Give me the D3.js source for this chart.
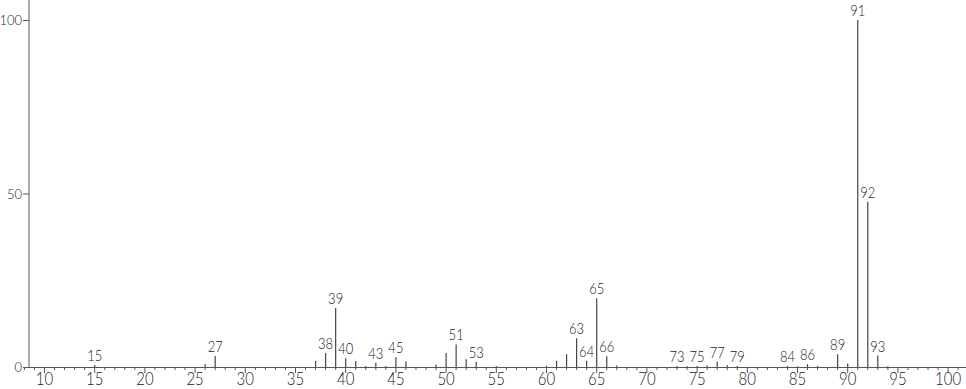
<!DOCTYPE html>
<html>
<head>
<meta charset="utf-8">
<script src="https://cdn.jsdelivr.net/npm/d3@7"></script>
<style>
  html, body { margin: 0; padding: 0; background: #fff; }
  svg { display: block; font-family: Lato, "Liberation Sans", sans-serif; font-weight: 300; }
</style>
</head>
<body>
<div id="chart"></div>
<script>
const width = 966
const height = 389

// m/z values and relative intensities
const masses = [15, 26, 27, 37, 38, 39, 40, 41, 42, 43, 44, 45, 46, 49, 50, 51, 52, 53, 55,
    60, 61, 62, 63, 64, 65, 66, 67, 73, 74, 75, 76, 77, 78, 79, 84, 85, 86, 87, 89, 90, 91, 92, 93, 94]
const intensities = [0.6, 0.9, 3.2, 1.8, 4.0, 17.0, 2.5, 1.7, 0.3, 1.2, 0.3, 2.8, 1.6, 0.7, 4.0, 6.5, 2.2, 1.5, 0.3,
    0.4, 1.8, 3.7, 8.3, 1.8, 19.8, 3.1, 0.4, 0.3, 0.2, 0.3, 0.4, 1.5, 0.5, 0.3, 0.3, 0.2, 0.8, 0.3, 3.7, 1.0, 100, 47.6, 3.3, 0.2]
const labelled = [15, 27, 38, 39, 40, 43, 45, 51, 53, 63, 64, 65, 66, 73, 75, 77, 79, 84, 86, 89, 91, 92, 93]

const xTicks = d3.range(10, 101, 5)
const yTicks = [0, 50, 100]

const peaks = masses.map((m, i) => ({mz: m, value: intensities[i]}))

const x = d3.scaleLinear()
    .domain([10, 100])
    .range([44.5, 948.1])

const y = d3.scaleLinear()
    .domain([0, 100])
    .range([367, 20])

const svg = d3.select('#chart')
    .append('svg')
    .attr('width', width)
    .attr('height', height)

// minor ticks at every mass unit, longer ones every 5
svg.append('g')
    .selectAll('line')
    .data(d3.range(8, 102))
    .enter()
    .append('line')
    .attr('x1', d => x(d))
    .attr('x2', d => x(d))
    .attr('y1', y(0))
    .attr('y2', d => d % 5 === 0 ? y(0) + 6 : y(0) + 3)
    .attr('stroke', '#555')
    .attr('stroke-width', 1)

// x axis line
svg.append('line')
    .attr('x1', 29)
    .attr('x2', width)
    .attr('y1', y(0) + 0.5)
    .attr('y2', y(0) + 0.5)
    .attr('stroke', '#555')

// tick labels are a little taller than wide in the original
svg.append('g')
    .selectAll('text')
    .data(xTicks)
    .enter()
    .append('text')
    .attr('transform', d => `translate(${x(d)},385) scale(1,1.2)`)
    .attr('text-anchor', 'middle')
    .attr('font-size', 15)
    .attr('fill', '#222')
    .text(d => d)

// y axis
svg.append('line')
    .attr('x1', 29)
    .attr('x2', 29)
    .attr('y1', 0)
    .attr('y2', y(0))
    .attr('stroke', '#aaa')
    .attr('stroke-width', 2)

const yAxis = svg.append('g')
yAxis.selectAll('line')
    .data(yTicks)
    .enter()
    .append('line')
    .attr('x1', 23)
    .attr('x2', 29)
    .attr('y1', d => y(d) + 0.5)
    .attr('y2', d => y(d) + 0.5)
    .attr('stroke', '#555')

yAxis.selectAll('text')
    .data(yTicks)
    .enter()
    .append('text')
    .attr('transform', d => `translate(22,${y(d) + 5}) scale(1,1.1)`)
    .attr('text-anchor', 'end')
    .attr('font-size', 13)
    .attr('fill', '#222')
    .text(d => d)

// peaks
svg.append('g')
    .selectAll('line')
    .data(peaks)
    .enter()
    .append('line')
    .attr('x1', d => x(d.mz))
    .attr('x2', d => x(d.mz))
    .attr('y1', y(0))
    .attr('y2', d => y(d.value))
    .attr('stroke', '#444')
    .attr('stroke-width', 1.2)

// peak labels
svg.append('g')
    .selectAll('text')
    .data(peaks.filter(p => labelled.includes(p.mz)))
    .enter()
    .append('text')
    .attr('transform', d => `translate(${x(d.mz)},${Math.min(y(d.value) - 4, 363)}) scale(1,1.15)`)
    .attr('text-anchor', 'middle')
    .attr('font-size', 13)
    .attr('fill', '#222')
    .text(d => d.mz)
</script>
</body>
</html>
